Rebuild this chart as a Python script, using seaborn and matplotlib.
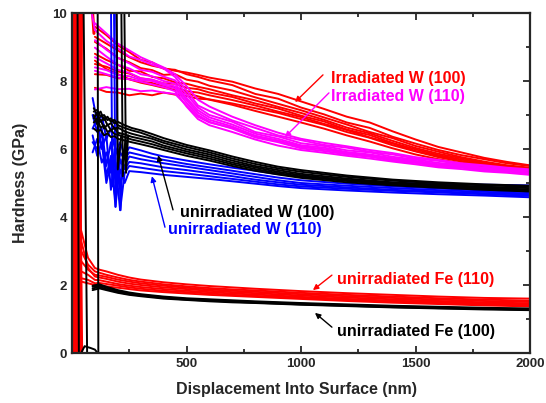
import matplotlib
matplotlib.use("Agg")
import matplotlib.pyplot as plt
from matplotlib.ticker import MultipleLocator
import pandas as pd
import seaborn as sns

# ---- irradiated W, displacement grid (nm) and hardness (GPa) per indent ----
irr_x = [100, 150, 200, 250, 300, 350, 400, 450, 500, 550, 600, 700, 800, 900,
         1000, 1100, 1200, 1300, 1400, 1500, 1600, 1700, 1800, 1900, 2000]
irr_w100 = [
    [9.6, 9.35, 9.05, 8.85, 8.62, 8.55, 8.36, 8.33, 8.2, 8.12, 8.02, 7.88, 7.62, 7.48, 7.22, 7.02, 6.78, 6.62, 6.36, 6.16, 5.97, 5.82, 5.7, 5.58, 5.5],
    [9.15, 8.95, 8.68, 8.55, 8.38, 8.32, 8.18, 8.2, 8.04, 7.98, 7.86, 7.72, 7.52, 7.33, 7.14, 6.93, 6.72, 6.5, 6.32, 6.09, 5.92, 5.76, 5.63, 5.52, 5.45],
    [8.8, 8.62, 8.48, 8.3, 8.28, 8.12, 8.08, 7.96, 7.92, 7.83, 7.76, 7.58, 7.43, 7.24, 7.06, 6.86, 6.63, 6.46, 6.24, 6.03, 5.86, 5.73, 5.6, 5.5, 5.42],
    [8.5, 8.42, 8.28, 8.22, 8.08, 8.03, 7.93, 7.92, 7.8, 7.76, 7.66, 7.53, 7.34, 7.19, 6.98, 6.81, 6.57, 6.41, 6.18, 5.99, 5.82, 5.69, 5.57, 5.47, 5.39],
    [8.2, 8.18, 8.08, 8.06, 7.98, 7.94, 7.84, 7.82, 7.7, 7.66, 7.58, 7.44, 7.28, 7.1, 6.94, 6.74, 6.56, 6.34, 6.16, 5.94, 5.79, 5.65, 5.54, 5.44, 5.36],
    [7.8, 7.68, 7.66, 7.58, 7.63, 7.58, 7.66, 7.6, 7.56, 7.48, 7.46, 7.34, 7.2, 7.06, 6.88, 6.71, 6.5, 6.33, 6.11, 5.93, 5.76, 5.63, 5.51, 5.42, 5.34],
    [9.3, 9.1, 8.9, 8.7, 8.55, 8.45, 8.38, 8.3, 8.25, 8.18, 8.1, 7.98, 7.78, 7.62, 7.4, 7.18, 6.95, 6.78, 6.52, 6.28, 6.06, 5.9, 5.74, 5.62, 5.52],
    [8.6, 8.35, 8.2, 8.05, 7.95, 7.88, 7.8, 7.74, 7.64, 7.55, 7.45, 7.3, 7.12, 6.95, 6.78, 6.6, 6.4, 6.22, 6.02, 5.84, 5.7, 5.58, 5.47, 5.4, 5.32],
]
irr_w110 = [
    [9.5, 9.18, 8.96, 8.72, 8.62, 8.48, 8.37, 8.12, 7.72, 7.28, 7.12, 6.84, 6.62, 6.4, 6.26, 6.12, 6.04, 5.92, 5.84, 5.72, 5.65, 5.55, 5.5, 5.42, 5.38],
    [9.2, 8.92, 8.68, 8.52, 8.33, 8.27, 8.13, 8.02, 7.6, 7.22, 7.0, 6.8, 6.5, 6.37, 6.17, 6.09, 5.96, 5.9, 5.77, 5.69, 5.59, 5.53, 5.45, 5.41, 5.35],
    [8.98, 8.72, 8.48, 8.37, 8.2, 8.14, 8.0, 7.92, 7.5, 7.14, 6.93, 6.72, 6.45, 6.3, 6.11, 6.04, 5.91, 5.84, 5.73, 5.65, 5.55, 5.5, 5.42, 5.38, 5.31],
    [8.7, 8.52, 8.33, 8.24, 8.08, 8.04, 7.93, 7.84, 7.44, 7.07, 6.86, 6.66, 6.39, 6.25, 6.06, 5.99, 5.87, 5.8, 5.69, 5.62, 5.52, 5.48, 5.4, 5.36, 5.29],
    [8.4, 8.32, 8.18, 8.14, 8.03, 8.0, 7.88, 7.78, 7.36, 7.0, 6.8, 6.6, 6.34, 6.2, 6.02, 5.94, 5.84, 5.77, 5.66, 5.59, 5.49, 5.45, 5.37, 5.34, 5.27],
    [7.75, 7.82, 7.76, 7.77, 7.7, 7.72, 7.66, 7.62, 7.28, 6.95, 6.78, 6.62, 6.38, 6.24, 6.08, 5.99, 5.89, 5.81, 5.71, 5.63, 5.53, 5.48, 5.4, 5.36, 5.3],
    [9.7, 9.4, 9.1, 8.9, 8.7, 8.55, 8.4, 8.2, 7.85, 7.45, 7.25, 6.95, 6.7, 6.48, 6.3, 6.18, 6.08, 5.97, 5.88, 5.76, 5.68, 5.58, 5.52, 5.45, 5.4],
    [8.3, 8.2, 8.1, 8.05, 7.98, 7.9, 7.82, 7.7, 7.25, 6.88, 6.7, 6.5, 6.28, 6.1, 5.97, 5.89, 5.8, 5.72, 5.63, 5.55, 5.46, 5.41, 5.34, 5.3, 5.24],
]

# ---- unirradiated W ----
w100_x = [95, 110, 125, 140, 155, 170, 185, 200, 230, 260, 300, 350, 400, 500,
          600, 700, 800, 900, 1000, 1200, 1400, 1600, 1800, 2000]
w100 = [
    [7.2, 7.0, 7.1, 6.85, 6.95, 6.8, 6.86, 6.7, 6.62, 6.55, 6.48, 6.36, 6.24, 6.06, 5.9, 5.72, 5.56, 5.43, 5.33, 5.18, 5.07, 4.99, 4.93, 4.89],
    [6.9, 7.06, 6.8, 6.92, 6.7, 6.76, 6.6, 6.63, 6.52, 6.45, 6.38, 6.3, 6.18, 5.99, 5.84, 5.66, 5.5, 5.38, 5.27, 5.13, 5.02, 4.95, 4.89, 4.85],
    [7.0, 6.72, 6.86, 6.6, 6.72, 6.55, 6.62, 6.48, 6.43, 6.36, 6.3, 6.22, 6.1, 5.93, 5.78, 5.6, 5.46, 5.33, 5.23, 5.09, 4.99, 4.92, 4.86, 4.81],
    [6.78, 6.9, 6.62, 6.7, 6.5, 6.56, 6.44, 6.42, 6.35, 6.28, 6.22, 6.14, 6.04, 5.87, 5.72, 5.55, 5.41, 5.29, 5.19, 5.06, 4.96, 4.89, 4.83, 4.78],
    [6.6, 6.52, 6.56, 6.4, 6.46, 6.35, 6.38, 6.3, 6.25, 6.2, 6.14, 6.06, 5.97, 5.8, 5.66, 5.5, 5.36, 5.25, 5.15, 5.02, 4.93, 4.86, 4.8, 4.75],
    [7.1, 7.15, 6.95, 7.0, 6.85, 6.9, 6.75, 6.8, 6.7, 6.62, 6.55, 6.44, 6.32, 6.12, 5.96, 5.78, 5.62, 5.48, 5.38, 5.22, 5.1, 5.02, 4.96, 4.92],
]
w110_x = [90, 110, 130, 150, 170, 190, 210, 230, 250, 300, 350, 400, 500, 600,
          700, 800, 900, 1000, 1200, 1400, 1600, 1800, 2000]
w110 = [
    [7.5, 6.8, 7.0, 6.3, 6.6, 5.9, 6.2, 5.8, 6.05, 5.96, 5.86, 5.78, 5.66, 5.55, 5.45, 5.36, 5.26, 5.18, 5.08, 5.01, 4.97, 4.95, 4.93],
    [7.0, 6.5, 6.6, 5.5, 6.2, 5.0, 5.9, 5.7, 5.9, 5.82, 5.74, 5.68, 5.56, 5.46, 5.36, 5.26, 5.16, 5.08, 4.98, 4.9, 4.84, 4.78, 4.73],
    [6.6, 6.9, 6.0, 6.4, 4.8, 6.0, 5.6, 5.5, 5.78, 5.7, 5.64, 5.58, 5.48, 5.38, 5.28, 5.18, 5.08, 5.0, 4.92, 4.85, 4.79, 4.74, 4.69],
    [6.2, 6.0, 6.5, 5.2, 5.8, 4.3, 5.7, 5.4, 5.62, 5.58, 5.52, 5.46, 5.38, 5.29, 5.2, 5.1, 5.02, 4.95, 4.87, 4.8, 4.75, 4.7, 4.66],
    [5.9, 6.3, 5.6, 5.9, 5.3, 5.6, 4.2, 5.3, 5.5, 5.45, 5.4, 5.35, 5.28, 5.2, 5.12, 5.04, 4.96, 4.9, 4.83, 4.77, 4.72, 4.67, 4.62],
    [6.4, 5.8, 6.2, 5.0, 5.6, 4.5, 5.4, 5.0, 5.35, 5.32, 5.28, 5.24, 5.18, 5.12, 5.05, 4.98, 4.91, 4.85, 4.78, 4.72, 4.67, 4.63, 4.58],
]

# ---- unirradiated Fe ----
fe110_x = [40, 70, 100, 120, 150, 200, 250, 300, 400, 500, 600, 700, 800,
           1000, 1200, 1400, 1600, 1800, 2000]
fe110 = [
    [3.6, 2.8, 2.5, 2.45, 2.4, 2.3, 2.22, 2.16, 2.08, 2.02, 1.97, 1.93, 1.89, 1.82, 1.76, 1.71, 1.66, 1.62, 1.6],
    [3.0, 2.6, 2.4, 2.36, 2.3, 2.22, 2.15, 2.1, 2.02, 1.96, 1.91, 1.87, 1.84, 1.77, 1.71, 1.66, 1.61, 1.57, 1.54],
    [2.7, 2.45, 2.3, 2.28, 2.24, 2.16, 2.1, 2.05, 1.98, 1.92, 1.87, 1.83, 1.8, 1.73, 1.67, 1.62, 1.57, 1.53, 1.5],
    [3.3, 2.5, 2.25, 2.22, 2.18, 2.1, 2.04, 2.0, 1.93, 1.88, 1.83, 1.79, 1.76, 1.69, 1.63, 1.58, 1.53, 1.49, 1.46],
    [2.4, 2.3, 2.15, 2.14, 2.1, 2.03, 1.98, 1.94, 1.88, 1.83, 1.79, 1.75, 1.72, 1.65, 1.59, 1.54, 1.5, 1.46, 1.43],
    [2.2, 2.15, 2.05, 2.06, 2.03, 1.98, 1.93, 1.89, 1.83, 1.79, 1.75, 1.71, 1.68, 1.62, 1.56, 1.51, 1.47, 1.43, 1.4],
    [2.1, 2.05, 2.0, 1.99, 1.96, 1.92, 1.88, 1.84, 1.79, 1.75, 1.71, 1.68, 1.65, 1.59, 1.53, 1.48, 1.44, 1.4, 1.37],
]
fe100_x = [90, 120, 150, 200, 250, 300, 400, 500, 600, 700, 800, 1000, 1200,
           1400, 1600, 1800, 2000]
fe100 = [
    [1.98, 2.02, 1.95, 1.85, 1.78, 1.73, 1.66, 1.61, 1.58, 1.55, 1.52, 1.47, 1.43, 1.39, 1.36, 1.33, 1.31],
    [1.95, 1.98, 1.92, 1.82, 1.75, 1.71, 1.64, 1.59, 1.56, 1.53, 1.5, 1.45, 1.41, 1.37, 1.34, 1.31, 1.29],
    [1.9, 1.94, 1.88, 1.79, 1.73, 1.69, 1.62, 1.57, 1.54, 1.51, 1.48, 1.43, 1.39, 1.35, 1.32, 1.3, 1.27],
    [1.85, 1.9, 1.85, 1.77, 1.71, 1.67, 1.6, 1.56, 1.52, 1.49, 1.47, 1.42, 1.38, 1.34, 1.31, 1.28, 1.26],
]

# ---- near-surface loading segments ----
red_spike_x = [[0, 6], [2, 9], [4, 12], [6, 14], [8, 17], [10, 19], [12, 21], [14, 24],
               [16, 26], [18, 28], [20, 30], [23, 34], [26, 37], [29, 40], [32, 42],
               [2, 14], [6, 20], [10, 26], [14, 30], [18, 34], [22, 38], [27, 42], [85, 96]]
red_spike_y = [[0, 10.5], [0, 10.5], [0, 10.5], [0, 10.5], [0, 10.5], [0, 10.5], [0, 10.5], [0, 10.5],
               [0, 10.5], [0, 10.5], [0, 10.5], [0, 10.5], [0, 10.5], [0, 10.5], [0, 10.5],
               [10.5, 0], [10.5, 0], [10.5, 0], [10.5, 0], [10.5, 0], [10.5, 0], [10.5, 0], [10.5, 9.4]]
magenta_spike_x = [[78, 100]]
magenta_spike_y = [[10.3, 9.5]]
blue_spike_x = [[170, 176, 185], [183, 190, 200], [192, 199, 210], [205, 212, 220]]
blue_spike_y = [[10.5, 4.9, 6.0], [10.5, 4.3, 5.8], [10.5, 5.2, 6.0], [6.0, 4.2, 5.7]]
black_spike_x = [[24, 30], [50, 66], [112, 115], [40, 55, 80, 100, 112],
                 [195, 200, 215], [215, 222, 235], [228, 236, 245]]
black_spike_y = [[10.5, 0], [10.5, 0], [10.5, 0], [0, 0.2, 0.15, 0.1, 0],
                 [10.5, 5.4, 6.4], [10.5, 5.2, 6.5], [10.5, 5.3, 6.4]]

RED, MAGENTA, BLUE, BLACK = "#ff0000", "#ff00ff", "#0000ff", "#000000"

rows = []


def add(group, xs, curves):
    for i, ys in enumerate(curves):
        for x, y in zip(xs, ys):
            rows.append({"group": group, "curve": f"{group}{i}", "disp": x, "hard": y})


def add_segments(group, xs_list, ys_list):
    for i, (xs, ys) in enumerate(zip(xs_list, ys_list)):
        for x, y in zip(xs, ys):
            rows.append({"group": group, "curve": f"{group}{i}", "disp": x, "hard": y})


add_segments("red_spike", red_spike_x, red_spike_y)
add("fe110", fe110_x, fe110)
add("irr_w100", irr_x, irr_w100)
add_segments("magenta_spike", magenta_spike_x, magenta_spike_y)
add("irr_w110", irr_x, irr_w110)
add_segments("blue_spike", blue_spike_x, blue_spike_y)
add("w110", w110_x, w110)
add("w100", w100_x, w100)
add("fe100", fe100_x, fe100)
add_segments("black_spike", black_spike_x, black_spike_y)
df = pd.DataFrame(rows)

colors = {"red_spike": RED, "fe110": RED, "irr_w100": RED,
          "magenta_spike": MAGENTA, "irr_w110": MAGENTA,
          "blue_spike": BLUE, "w110": BLUE,
          "w100": BLACK, "fe100": BLACK, "black_spike": BLACK}

sns.set_style("ticks")
plt.rcParams["font.family"] = ["Liberation Sans", "DejaVu Sans"]
plt.rcParams["font.weight"] = "bold"

fig = plt.figure(figsize=(5.46, 4.03), dpi=100)
ax = fig.add_axes([72 / 546, 50 / 403, 458 / 546, 340 / 403])

for g in df["group"].unique():
    lw = 2.2 if g == "red_spike" else 1.4
    sns.lineplot(data=df[df["group"] == g], x="disp", y="hard", units="curve",
                 estimator=None, sort=False, color=colors[g], lw=lw,
                 legend=False, ax=ax)

ax.set_xlim(0, 2000)
ax.set_ylim(0, 10)
ax.set_xticks([500, 1000, 1500, 2000])
ax.xaxis.set_minor_locator(MultipleLocator(250))
ax.set_yticks([0, 2, 4, 6, 8, 10])
ax.yaxis.set_minor_locator(MultipleLocator(1))
ax.tick_params(which="both", direction="in", top=True, right=True, width=1.3,
               labelsize=9.5)
ax.tick_params(which="major", length=5)
ax.tick_params(which="minor", length=3)
for lab in ax.get_xticklabels() + ax.get_yticklabels():
    lab.set_fontweight("bold")
for sp in ax.spines.values():
    sp.set_linewidth(1.6)

ax.set_xlabel("Displacement Into Surface (nm)", fontsize=11.5, fontweight="bold")
ax.set_ylabel("Hardness (GPa)", fontsize=11.5, fontweight="bold")
ax.xaxis.set_label_coords(0.49, -0.085)
ax.yaxis.set_label_coords(-0.095, 0.5)

# annotations: (label, text x, text y, arrow tail, arrow head, colour)
notes = [
    ("Irradiated W (100)", 1131, 8.07, (1096, 8.18), (974, 7.38), RED),
    ("Irradiated W (110)", 1131, 7.53, (1122, 7.65), (930, 6.35), MAGENTA),
    ("unirradiated W (100)", 472, 4.12, (441, 4.21), (376, 5.82), BLACK),
    ("unirradiated W (110)", 419, 3.62, (406, 3.7), (349, 5.2), BLUE),
    ("unirradiated Fe (110)", 1157, 2.15, (1135, 2.29), (1052, 1.85), RED),
    ("unirradiated Fe (100)", 1157, 0.63, (1135, 0.76), (1061, 1.18), BLACK),
]
for label, tx, ty, tail, head, c in notes:
    ax.text(tx, ty, label, color=c, fontsize=11.5, fontweight="bold",
            ha="left", va="center")
    ax.annotate("", xy=head, xytext=tail,
                arrowprops=dict(arrowstyle="-|>", color=c, lw=1.0,
                                mutation_scale=8, shrinkA=0, shrinkB=0))

fig.savefig("out.png", dpi=100)
